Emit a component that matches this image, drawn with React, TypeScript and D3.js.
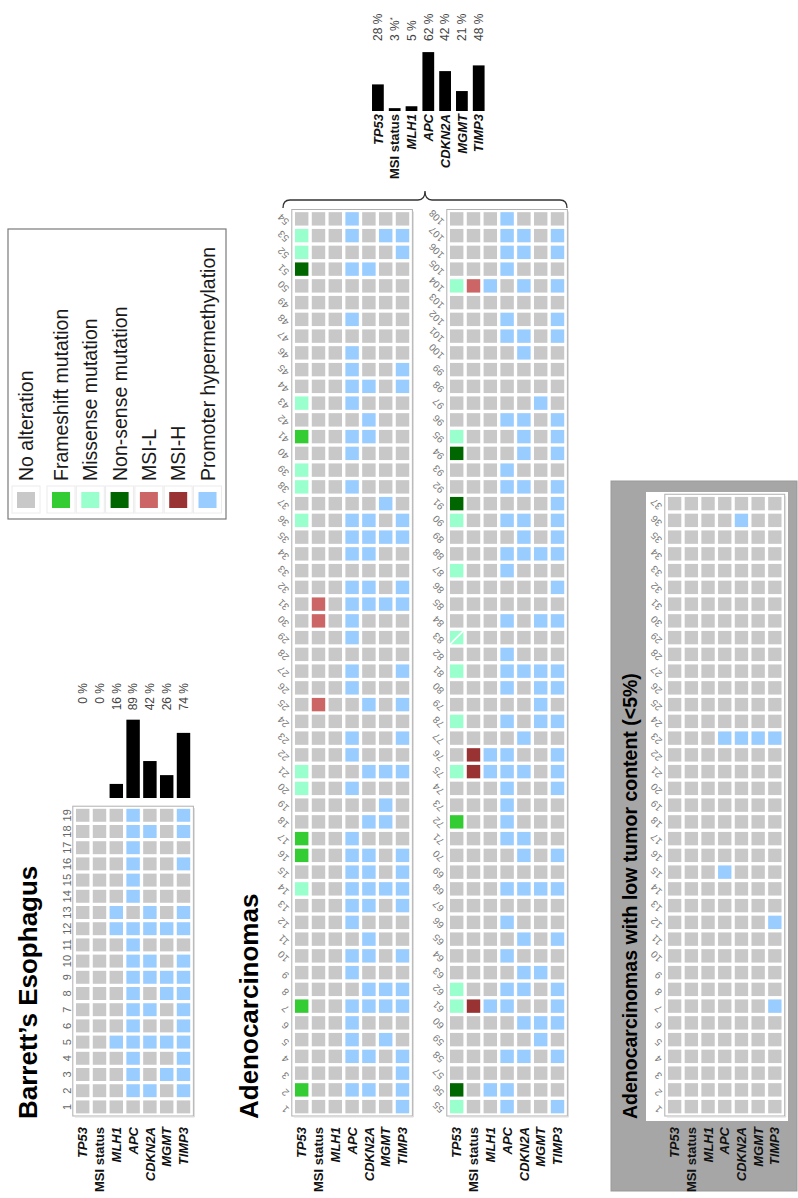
import React from "react";
import * as d3 from "d3";

const genes = ["TP53", "MSI status", "MLH1", "APC", "CDKN2A", "MGMT", "TIMP3"];
const geneItalic = [true, false, true, true, true, true, true];

const legendLabels = [
  "No alteration",
  "Frameshift mutation",
  "Missense mutation",
  "Non-sense mutation",
  "MSI-L",
  "MSI-H",
  "Promoter hypermethylation",
];
const legendCodes = ["0", "F", "M", "N", "L", "H", "P"];

const barrettPct = [0, 0, 16, 89, 42, 26, 74];
const barrettPctLabels = ["0 %", "0 %", "16 %", "89 %", "42 %", "26 %", "74 %"];
const adenoPct = [28, 3, 5, 62, 42, 21, 48];
const adenoPctLabels = ["28 %", "3 %", "5 %", "62 %", "42 %", "21 %", "48 %"];
const adenoPctMarks = ["", "*", "", "", "", "", ""];

// codes per sample, one char per gene column:
// 0 none, F frameshift, M missense, S missense (split cell), N non-sense, L MSI-L, H MSI-H, P hypermethylation
const barrettSamples = [
  "0000000", "000PP0P", "000P0PP", "000P00P", "00PPPPP", "000P00P", "000PP0P", "000P0PP", "000PPPP", "000PP0P",
  "000P000", "00PPPPP", "00P0P0P", "000P000", "000P000", "000P00P", "000P000", "000PP0P", "000P00P",
];

const adenoSamplesA = [
  "000000P", "F00PP0P", "000000P", "000PP0P", "000P0P0", "000P000", "F00PPPP", "0000PPP", "000P000", "000PP0P",
  "0000P00", "000P000", "000PP0P", "M00PPPP", "000PP0P", "F00PP0P", "F00P000", "0000PP0", "00000P0", "M00P000",
  "M000PPP", "000P000", "000P00P", "0000000", "0L00P0P", "000P000", "000P00P", "0000000", "000P000", "0L0P000",
  "0L0PPPP", "000PP0P", "0000000", "000PP00", "000PPPP", "M00PP0P", "00000P0", "M00P000", "M000000", "000P000",
  "F00PP00", "0000P00", "M00P000", "000PP0P", "000P00P", "000P000", "0000000", "000P000", "0000000", "0000000",
  "N00PP00", "M00000P", "M00P0PP", "000P000",
];

const adenoSamplesB = [
  "M00P00P", "N0PP000", "0000000", "000PP0P", "00000P0", "0000PPP", "MHPP00P", "M00PP0P", "0000PP0", "000P000",
  "0000P0P", "000P000", "0000000", "000PPPP", "0000000", "0000P0P", "000PP00", "F00P000", "000P000", "000P00P",
  "MHPPP0P", "0HPP00P", "0000P00", "M00P0PP", "00000P0", "000P0PP", "M00PPPP", "000P000", "S000000", "000P0PP",
  "0000000", "000000P", "M00P000", "000PPPP", "0000P0P", "M00PP0P", "N00000P", "000PP0P", "000P000", "N000P0P",
  "M000P0P", "000PP0P", "00000P0", "0000000", "0000000", "0000P00", "000PP0P", "000P00P", "0000000", "MLP0P0P",
  "000P000", "000PP0P", "000PP0P", "000P000",
];

const lowTumorSamples = [
  "0000000", "0000000", "0000000", "0000000", "0000000", "0000000", "000000P", "0000000", "0000000", "0000000",
  "0000000", "000000P", "0000000", "0000000", "000P000", "0000000", "0000000", "0000000", "0000000", "0000000",
  "0000000", "0000000", "000PPPP", "0000000", "0000000", "0000000", "0000000", "0000000", "0000000", "0000000",
  "0000000", "0000000", "0000000", "0000000", "0000000", "0000P00", "0000000",
];

const COLORS: Record<string, string> = {
  "0": "#c8c8c8",
  F: "#33cc33",
  M: "#99ffcc",
  S: "#99ffcc",
  N: "#006600",
  L: "#cc6666",
  H: "#993333",
  P: "#99ccff",
};

const FONT = "'Liberation Sans', Arial, Helvetica, sans-serif";

type GridProps = {
  samples: string[];
  firstNum: number;
  x0: number;
  px: number;
  yBottom: number;
  py: number;
  labelMode: "v" | "diag";
};

function Grid({ samples, firstNum, x0, px, yBottom, py, labelMode }: GridProps) {
  const nums = samples.map((_, i) => firstNum + i);
  const x = d3
    .scaleBand<string>()
    .domain(genes)
    .range([x0, x0 + genes.length * px])
    .paddingInner(0.2)
    .paddingOuter(0.1);
  const y = d3
    .scaleBand<number>()
    .domain(nums.slice().reverse())
    .range([yBottom - nums.length * py, yBottom])
    .paddingInner(0.2)
    .paddingOuter(0.1);
  const bw = x.bandwidth();
  const bh = y.bandwidth();
  const left = x0 - 1.5;
  const right = x0 + genes.length * px + 1.5;
  const top = yBottom - nums.length * py - 1;
  const bottom = yBottom + 1;
  return (
    <g>
      <rect x={left} y={top} width={right - left} height={bottom - top} fill="#fff" stroke="#b0b0b0" strokeWidth={1} />
      <path d={`M${right + 1},${top + 2}V${bottom + 1}H${left + 2}`} stroke="#dcdcdc" strokeWidth={1} fill="none" />
      {samples.map((s, i) =>
        genes.map((g, j) => {
          const code = s[j];
          const cx = x(g) as number;
          const cy = y(nums[i]) as number;
          return (
            <g key={`${i}-${j}`}>
              <rect x={cx} y={cy} width={bw} height={bh} fill={COLORS[code]} />
              {code === "S" && (
                <line x1={cx} y1={cy + bh} x2={cx + bw} y2={cy} stroke="#fff" strokeWidth={1.6} />
              )}
            </g>
          );
        })
      )}
      {nums.map((n) => {
        const cy = (y(n) as number) + bh / 2;
        if (labelMode === "v") {
          const lx = left - 2;
          return (
            <text
              key={`l${n}`}
              x={lx}
              y={cy}
              transform={`rotate(-90 ${lx} ${cy})`}
              textAnchor="middle"
              fontSize={11}
              fill="#666"
              fontFamily={FONT}
            >
              {n}
            </text>
          );
        }
        const lx = left - 2;
        const ly = cy + 2;
        return (
          <text
            key={`l${n}`}
            x={lx}
            y={ly}
            transform={`rotate(-135 ${lx} ${ly})`}
            textAnchor="start"
            fontSize={10}
            fill="#777"
            fontFamily={FONT}
          >
            {n}
          </text>
        );
      })}
    </g>
  );
}

function GeneLabels({ x0, px, yTop }: { x0: number; px: number; yTop: number }) {
  const x = d3.scaleBand<string>().domain(genes).range([x0, x0 + genes.length * px]);
  return (
    <g>
      {genes.map((g, i) => {
        const lx = (x(g) as number) + x.bandwidth() / 2 + 4.6;
        return (
          <text
            key={g}
            x={lx}
            y={yTop}
            transform={`rotate(-90 ${lx} ${yTop})`}
            textAnchor="end"
            fontSize={13}
            fontWeight="bold"
            fontStyle={geneItalic[i] ? "italic" : "normal"}
            fill="#111"
            fontFamily={FONT}
          >
            {g}
          </text>
        );
      })}
    </g>
  );
}

type BarsProps = {
  values: number[];
  labels: string[];
  marks?: string[];
  x0: number;
  px: number;
  padInner: number;
  baseline: number;
  fullHeight: number;
  labelY: number;
  labelAnchor: "start" | "end";
};

function Bars({ values, labels, marks, x0, px, padInner, baseline, fullHeight, labelY, labelAnchor }: BarsProps) {
  const x = d3
    .scaleBand<string>()
    .domain(genes)
    .range([x0, x0 + genes.length * px])
    .paddingInner(padInner)
    .paddingOuter(padInner / 2);
  const y = d3.scaleLinear().domain([0, 100]).range([baseline, baseline - fullHeight]);
  return (
    <g>
      {values.map((v, i) => {
        const bx = x(genes[i]) as number;
        return v > 0 ? (
          <rect key={`b${i}`} x={bx} y={y(v)} width={x.bandwidth()} height={baseline - y(v)} fill="#000" />
        ) : null;
      })}
      {labels.map((t, i) => {
        const lx = (x(genes[i]) as number) + x.bandwidth() / 2 + 4.3;
        return (
          <text
            key={`t${i}`}
            x={lx}
            y={labelY}
            transform={`rotate(-90 ${lx} ${labelY})`}
            textAnchor={labelAnchor}
            fontSize={12}
            fill="#444"
            fontFamily={FONT}
          >
            {t}
            {marks && marks[i] ? (
              <tspan dy={-4} fontSize={8}>
                {marks[i]}
              </tspan>
            ) : null}
          </text>
        );
      })}
    </g>
  );
}

function Legend() {
  const lx0 = 8;
  const ly0 = 229;
  const centers = legendLabels.map((_, i) => (i === 0 ? 26 : 61 + (i - 1) * 29.3));
  return (
    <g>
      <rect x={lx0} y={ly0} width={218} height={290} fill="#fff" stroke="#7a7a7a" strokeWidth={1.2} />
      {legendLabels.map((lab, i) => {
        const cx = centers[i];
        const tx = cx + 7;
        const ty = 481;
        return (
          <g key={lab}>
            <rect x={cx - 14} y={486} width={28} height={27} fill="none" stroke="#ececec" strokeWidth={1} />
            <rect x={cx - 9} y={492} width={18} height={16} fill={COLORS[legendCodes[i]]} />
            <text
              x={tx}
              y={ty}
              transform={`rotate(-90 ${tx} ${ty})`}
              textAnchor="start"
              fontSize={19.5}
              fill="#1a1a1a"
              fontFamily={FONT}
            >
              {lab}
            </text>
          </g>
        );
      })}
    </g>
  );
}

function VText({ x, y, size, weight, children, anchor = "start" }: any) {
  return (
    <text
      x={x}
      y={y}
      transform={`rotate(-90 ${x} ${y})`}
      textAnchor={anchor}
      fontSize={size}
      fontWeight={weight}
      fill="#000"
      fontFamily={FONT}
    >
      {children}
    </text>
  );
}

export default function App() {
  const W = 798;
  const H = 1198;
  const P = 16.8;
  const yBottom = 1115;
  return (
    <svg
      width={W}
      height={H}
      viewBox={`0 0 ${W} ${H}`}
      style={{ position: "absolute", left: 0, top: 0, display: "block", background: "#fff" }}
    >
      <rect x={0} y={0} width={W} height={H} fill="#fff" />
      <Legend />

      {/* Barrett's Esophagus */}
      <VText x={37} y={1119} size={26} weight="bold">
        Barrett’s Esophagus
      </VText>
      <Bars
        values={barrettPct}
        labels={barrettPctLabels}
        x0={74.3}
        px={P}
        padInner={0.2}
        baseline={798}
        fullHeight={88}
        labelY={683}
        labelAnchor="end"
      />
      <Grid samples={barrettSamples} firstNum={1} x0={74.3} px={P} yBottom={yBottom} py={16.2} labelMode="v" />
      <GeneLabels x0={74.3} px={P} yTop={1127} />

      {/* Adenocarcinomas */}
      <VText x={258} y={1119} size={26} weight="bold">
        Adenocarcinomas
      </VText>
      <Bars
        values={adenoPct}
        labels={adenoPctLabels}
        marks={adenoPctMarks}
        x0={369.5}
        px={P}
        padInner={0.3}
        baseline={111}
        fullHeight={95}
        labelY={41}
        labelAnchor="start"
      />
      <GeneLabels x0={369.5} px={P} yTop={114} />
      <path
        d="M283,208 Q283,200 290,200 L418,200 Q425,200 425,191 Q425,200 432,200 L560,200 Q567,200 567,208"
        fill="none"
        stroke="#333"
        strokeWidth={1.3}
      />
      <Grid samples={adenoSamplesA} firstNum={1} x0={293.3} px={P} yBottom={yBottom} py={16.75} labelMode="diag" />
      <GeneLabels x0={293.3} px={P} yTop={1127} />
      <Grid samples={adenoSamplesB} firstNum={55} x0={448.3} px={P} yBottom={yBottom} py={16.75} labelMode="diag" />
      <GeneLabels x0={448.3} px={P} yTop={1127} />

      {/* Low tumor content */}
      <rect x={611} y={481} width={186} height={710} fill="#a6a6a6" stroke="#999" strokeWidth={1} />
      <rect x={646} y={492} width={142} height={629} fill="#fff" />
      <VText x={637} y={1119} size={19.5} weight="bold">
        Adenocarcinomas with low tumor content (&lt;5%)
      </VText>
      <Grid samples={lowTumorSamples} firstNum={1} x0={666.3} px={16.7} yBottom={yBottom} py={16.75} labelMode="diag" />
      <GeneLabels x0={666.3} px={16.7} yTop={1127} />
    </svg>
  );
}
